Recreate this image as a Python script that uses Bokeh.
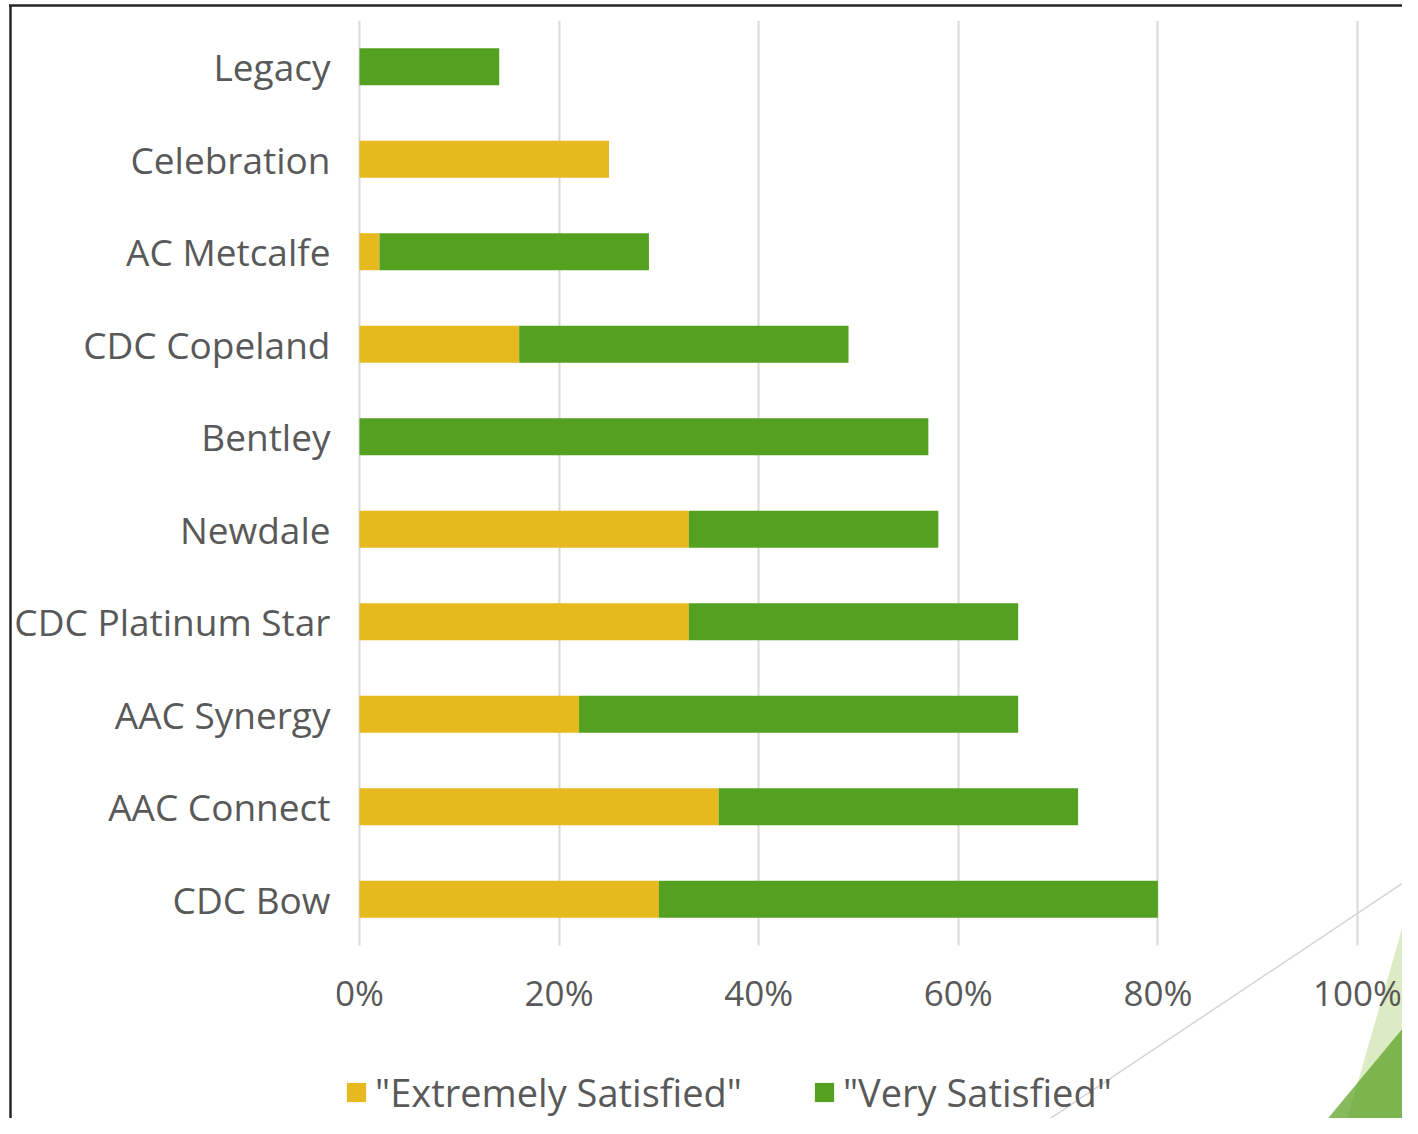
from urllib.parse import quote
from bokeh.plotting import figure
from bokeh.models import (Range1d, FixedTicker, NumeralTickFormatter, Grid,
                          Legend, LegendItem, ColumnDataSource, InlineStyleSheet)
from bokeh.embed import file_html
from bokeh.resources import INLINE

categories = ["Legacy", "Celebration", "AC Metcalfe", "CDC Copeland", "Bentley",
              "Newdale", "CDC Platinum Star", "AAC Synergy", "AAC Connect", "CDC Bow"]
extremely = [0.00, 0.25, 0.02, 0.16, 0.00, 0.33, 0.33, 0.22, 0.36, 0.30]
very = [0.14, 0.00, 0.27, 0.33, 0.57, 0.25, 0.33, 0.44, 0.36, 0.50]
x_ticks = [0, 0.2, 0.4, 0.6, 0.8, 1.0]
series_names = ['"Extremely Satisfied"', '"Very Satisfied"']
colors = ["#E6B91F", "#54A021"]

FONT = "Open Sans"
TXT = "#595959"

n = len(categories)
ypos = [n - 1 - k for k in range(n)]          # first category on top

# slide theme decoration drawn as a CSS background (no data in it)
svg = ("<svg xmlns='http://www.w3.org/2000/svg' width='1402' height='1118'>"
       "<polygon points='1418,873 1343,1134 1418,1134' fill='#DCEBC4'/>"
       "<polygon points='1418,1010 1315,1134 1418,1134' fill='#58A01E' fill-opacity='0.72'/>"
       "<line x1='1418' y1='873' x2='1027' y2='1134' stroke='#D4D4D4' stroke-width='1.5'/>"
       "<line x1='1407' y1='0' x2='1418' y2='62' stroke='#A0A0A0' stroke-width='1.5'/>"
       "<line x1='10.5' y1='5' x2='10.5' y2='1134' stroke='#262626' stroke-width='2.5'/>"
       "<line x1='9' y1='5.5' x2='1418' y2='5.5' stroke='#262626' stroke-width='2.5'/>"
       "</svg>")
css = (":host { background-color: white; background-image: url(\"data:image/svg+xml,"
       + quote(svg) + "\"); background-repeat: no-repeat; }")

src = ColumnDataSource(dict(y=ypos, cat=categories, extremely=extremely, very=very))

p = figure(width=1402, height=1118, output_backend="svg", toolbar_location=None,
           x_range=Range1d(-0.023046, 1.04309),
           y_range=Range1d(-2.370, n - 0.5),
           min_border_left=336, min_border_right=2,
           min_border_top=20, min_border_bottom=0,
           stylesheets=[InlineStyleSheet(css=css)])
p.outline_line_color = None
p.background_fill_color = None
p.border_fill_color = None

renderers = p.hbar_stack(["extremely", "very"], y="y", height=0.4, source=src,
                         color=colors, line_color=None)

# x axis drawn at the bottom of the bar area
xa = p.xaxis[0]
xa.fixed_location = -0.5
xa.ticker = FixedTicker(ticks=x_ticks)
xa.formatter = NumeralTickFormatter(format="0%")
xa.axis_line_color = None
xa.major_tick_line_color = None
xa.minor_tick_line_color = None
xa.major_tick_out = 0
xa.major_tick_in = 0
xa.major_label_standoff = 23
xa.major_label_text_font = FONT
xa.major_label_text_font_size = "35px"
xa.major_label_text_color = TXT

ya = p.yaxis[0]
ya.ticker = FixedTicker(ticks=ypos)
ya.major_label_overrides = {ypos[k]: categories[k] for k in range(n)}
ya.axis_line_color = None
ya.major_tick_line_color = None
ya.minor_tick_line_color = None
ya.major_tick_out = 0
ya.major_tick_in = 0
ya.major_label_standoff = 6
ya.major_label_text_font = FONT
ya.major_label_text_font_size = "37px"
ya.major_label_text_color = TXT

p.ygrid.grid_line_color = None
xg = p.xgrid[0]
xg.ticker = FixedTicker(ticks=x_ticks)
xg.grid_line_color = "#D9D9D9"
xg.grid_line_width = 2
if "cross_bounds" in Grid.properties():
    xg.cross_bounds = (-0.5, n - 0.5)
else:
    xg.visible = False
    xa.major_tick_in = 925
    xa.major_tick_line_color = "#D9D9D9"
    xa.major_tick_line_width = 2
    xa.level = "underlay"

legend = Legend(items=[LegendItem(label=series_names[i], renderers=[renderers[i]])
                       for i in range(2)],
                orientation="horizontal", location=(8, 0),
                padding=0, margin=0, spacing=70, label_standoff=7,
                glyph_width=24, glyph_height=24,
                label_text_font=FONT, label_text_font_size="38px",
                label_text_color=TXT, background_fill_alpha=0, border_line_color=None)
p.add_layout(legend, "center")

open("out.html", "w").write(file_html(p, INLINE))
